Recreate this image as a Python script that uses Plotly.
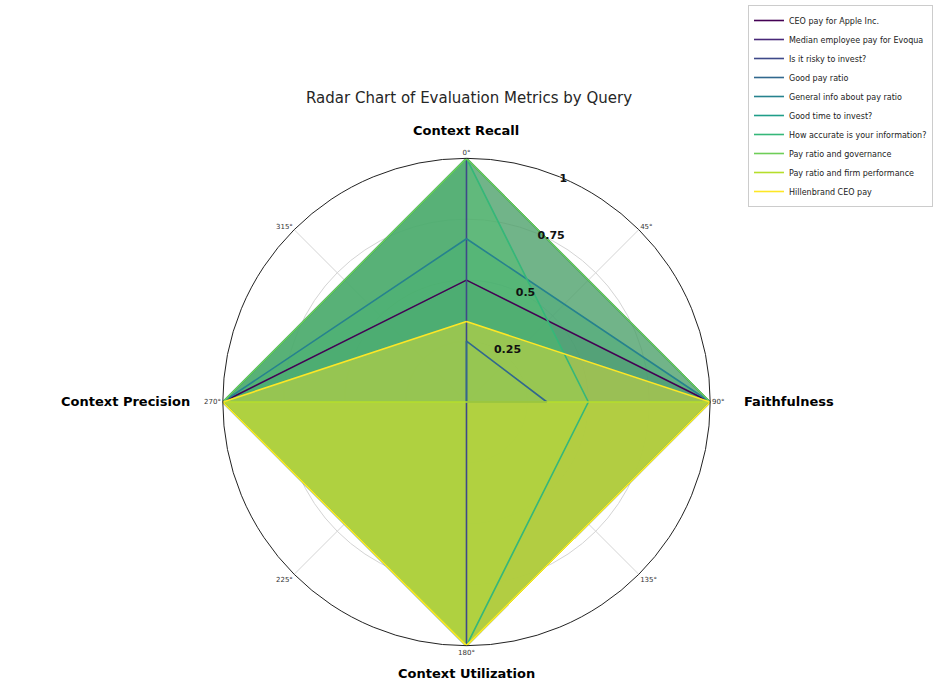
import plotly.graph_objects as go

# Evaluation metrics (axes of the radar), clockwise from the top
categories = ["Context Recall", "Faithfulness", "Context Utilization", "Context Precision"]

queries = [
    "CEO pay for Apple Inc.",
    "Median employee pay for Evoqua",
    "Is it risky to invest?",
    "Good pay ratio",
    "General info about pay ratio",
    "Good time to invest?",
    "How accurate is your information?",
    "Pay ratio and governance",
    "Pay ratio and firm performance",
    "Hillenbrand CEO pay",
]

context_recall      = [0.50, 1.00, 1.00, 0.25, 0.67, 1.00, 1.00, 1.00, 0.00, 0.33]
faithfulness        = [1.00, 1.00, 0.00, 0.33, 1.00, 1.00, 0.50, 1.00, 1.00, 1.00]
context_utilization = [1.00, 1.00, 1.00, 0.00, 1.00, 1.00, 1.00, 1.00, 1.00, 1.00]
context_precision   = [1.00, 1.00, 1.00, 0.00, 1.00, 1.00, 1.00, 1.00, 1.00, 1.00]

# viridis sampled at 10 evenly spaced points
colors = ["#440154", "#482878", "#3e4989", "#31688e", "#26828e",
          "#1f9e89", "#35b779", "#6ece58", "#b5de2b", "#fde725"]

angle_ticks = [0, 45, 90, 135, 180, 225, 270, 315]
angle_labels = ["0°", "45°", "90°", "135°", "180°", "225°", "270°", "315°"]
radial_ticks = [0.25, 0.5, 0.75, 1.0]
radial_labels = ["0.25", "0.5", "0.75", "1"]

FILL_ALPHA = 0.42
FONT = "DejaVu Sans"

W, H = 933, 681
CX, CY, R = 469, 402, 245  # plot centre and radius in pixels


def rgba(hex_color, a):
    h = hex_color.lstrip("#")
    r, g, b = int(h[0:2], 16), int(h[2:4], 16), int(h[4:6], 16)
    return f"rgba({r},{g},{b},{a})"


angles = [i * 360 / len(categories) for i in range(len(categories))]
series = list(zip(context_recall, faithfulness, context_utilization, context_precision))

fig = go.Figure()

# Filled areas first so every outline stays on top of all fills
for name, vals, col in zip(queries, series, colors):
    r = list(vals) + [vals[0]]
    th = angles + [angles[0]]
    fig.add_trace(go.Scatterpolar(
        r=r, theta=th, mode="lines", line=dict(width=0, color=col),
        fill="toself", fillcolor=rgba(col, FILL_ALPHA),
        showlegend=False, hoverinfo="skip",
    ))

for name, vals, col in zip(queries, series, colors):
    r = list(vals) + [vals[0]]
    th = angles + [angles[0]]
    fig.add_trace(go.Scatterpolar(
        r=r, theta=th, mode="lines", name=name,
        line=dict(color=col, width=1.6),
    ))

dom_x = [(CX - R) / W, (CX + R) / W]
dom_y = [(H - CY - R) / H, (H - CY + R) / H]

fig.update_layout(
    width=W, height=H,
    margin=dict(l=0, r=0, t=0, b=0),
    paper_bgcolor="white",
    font=dict(family=FONT, color="#222"),
    title=dict(
        text="Radar Chart of Evaluation Metrics by Query",
        x=CX / W, xanchor="center", y=1 - 98 / H, yanchor="middle",
        font=dict(size=15, color="#262626", family=FONT),
    ),
    polar=dict(
        domain=dict(x=dom_x, y=dom_y),
        bgcolor="white",
        angularaxis=dict(
            rotation=90, direction="clockwise",
            tickmode="array", tickvals=angle_ticks, ticktext=angle_labels,
            tickfont=dict(size=7, color="#333", family=FONT),
            ticks="", showline=True, linecolor="#222", linewidth=1,
            showgrid=True, gridcolor="#d4d4d4", gridwidth=1,
        ),
        radialaxis=dict(
            range=[0, 1], angle=69, side="clockwise", tickangle=69,
            tickmode="array", tickvals=radial_ticks, ticktext=radial_labels,
            tickfont=dict(size=11, color="#111", family=FONT, weight="bold"),
            ticks="", showline=False,
            showgrid=True, gridcolor="#d4d4d4", gridwidth=1,
        ),
    ),
    legend=dict(
        x=752 / W, y=1 - 5 / H, xanchor="left", yanchor="top",
        bgcolor="white", bordercolor="#cccccc", borderwidth=1,
        font=dict(size=8, family=FONT, color="#222"),
        itemwidth=30,
    ),
)

# Metric names placed just outside the circle at each axis
label_font = dict(size=13, family=FONT, color="black", weight="bold")
fig.add_annotation(text=categories[0], x=CX / W, y=(H - 130) / H,
                   xref="paper", yref="paper", showarrow=False,
                   xanchor="center", yanchor="middle", font=label_font)
fig.add_annotation(text=categories[1], x=(CX + R + 32) / W, y=(H - CY) / H,
                   xref="paper", yref="paper", showarrow=False,
                   xanchor="left", yanchor="middle", font=label_font)
fig.add_annotation(text=categories[2], x=CX / W, y=(H - 673) / H,
                   xref="paper", yref="paper", showarrow=False,
                   xanchor="center", yanchor="middle", font=label_font)
fig.add_annotation(text=categories[3], x=(CX - R - 31) / W, y=(H - CY) / H,
                   xref="paper", yref="paper", showarrow=False,
                   xanchor="right", yanchor="middle", font=label_font)

fig.write_html("out.html")
